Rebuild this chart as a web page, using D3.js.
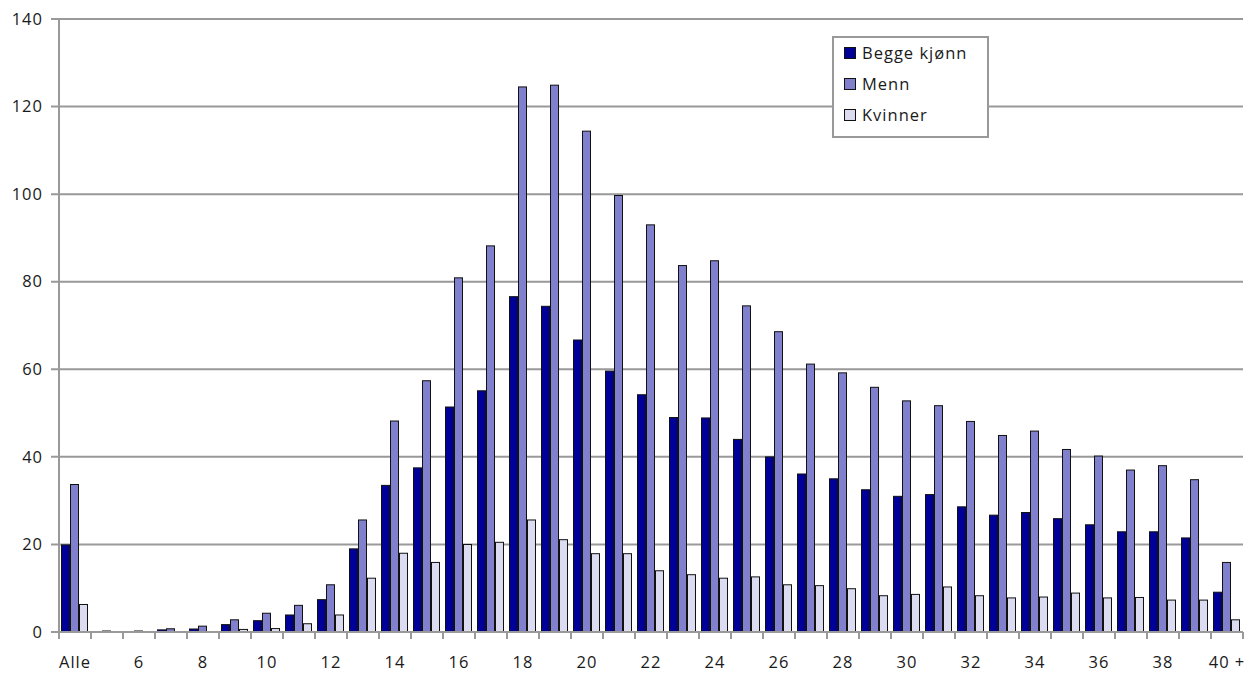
<!DOCTYPE html>
<html><head><meta charset="utf-8">
<script src="https://cdn.jsdelivr.net/npm/d3@7"></script>
<style>body{margin:0;background:#fff}svg{display:block}text{font-family:"Open Sans","DejaVu Sans",sans-serif;fill:#1a1a1a;letter-spacing:1px}</style>
</head><body><svg id="c" width="1246" height="673"></svg>
<script>
const categories = ["Alle","5","6","7","8","9","10","11","12","13","14","15","16","17","18","19","20","21","22","23","24","25","26","27","28","29","30","31","32","33","34","35","36","37","38","39","40 +"];
const tickLabels = ["Alle","6","8","10","12","14","16","18","20","22","24","26","28","30","32","34","36","38","40 +"];
const seriesNames = ["Begge kjønn","Menn","Kvinner"];
const begge = [20,0,0,0.6,0.8,1.8,2.7,4.0,7.5,19.1,33.6,37.6,51.5,55.2,76.7,74.5,66.8,59.7,54.3,49.1,49.0,44.1,40.1,36.2,35.1,32.6,31.1,31.5,28.7,26.8,27.4,26.0,24.6,23.0,23.0,21.6,9.2];
const menn = [33.8,0.2,0.2,0.85,1.45,2.9,4.4,6.2,10.9,25.7,48.3,57.5,81.0,88.3,124.6,125.0,114.5,99.8,93.1,83.8,84.9,74.6,68.7,61.3,59.3,56.0,52.9,51.8,48.2,45.0,46.0,41.8,40.3,37.1,38.1,34.9,16.0];
const kvinner = [6.4,0,0,0,0,0.7,0.9,2.0,4.0,12.4,18.1,16.0,20.1,20.6,25.7,21.2,18.0,18.0,14.1,13.2,12.4,12.7,10.9,10.7,10.0,8.4,8.7,10.4,8.4,7.9,8.1,9.0,7.9,8.0,7.4,7.4,2.9];
const yTicks = [0,20,40,60,80,100,120,140];
const colors = ["#000099","#8080cc","#dcdcf0"];

(function () {
const series = [begge, menn, kvinner];
const svg = d3.select("#c");
const pLeft = 59, pRight = 1243, pTop = 19, pBottom = 632;
const x = d3.scaleBand().domain(categories).range([pLeft, pRight]);
const xs = d3.scaleBand().domain(seriesNames).range([2, 29]);
const y = d3.scaleLinear().domain([0, 140]).range([pBottom, pTop]);

svg.append("g").selectAll("line").data(yTicks).join("line")
  .attr("x1", pLeft - 8).attr("x2", pRight)
  .attr("y1", d => y(d)).attr("y2", d => y(d))
  .attr("stroke", "#999").attr("stroke-width", 2);

svg.append("g").selectAll("text").data(yTicks).join("text")
  .attr("x", 43).attr("y", d => y(d)).attr("dy", "0.35em")
  .attr("text-anchor", "end").attr("font-size", 16.5).text(d => d);

series.forEach((vals, si) => {
  svg.append("g").selectAll("rect").data(vals.map((v, i) => ({v, i})).filter(d => d.v > 0)).join("rect")
    .attr("x", d => x(categories[d.i]) + xs(seriesNames[si]) + 0.5)
    .attr("y", d => Math.min(y(d.v), y(0) - 1.5) + 0.5)
    .attr("width", xs.bandwidth() - 1)
    .attr("height", d => Math.max(0.5, y(0) - y(d.v) - 1))
    .attr("fill", colors[si]).attr("stroke", "#111").attr("stroke-width", 1);
});

svg.append("line").attr("x1", pLeft).attr("x2", pLeft).attr("y1", pTop).attr("y2", pBottom + 1)
  .attr("stroke", "#999").attr("stroke-width", 2);
svg.append("line").attr("x1", pLeft - 8).attr("x2", pRight).attr("y1", pBottom).attr("y2", pBottom)
  .attr("stroke", "#999").attr("stroke-width", 2);

const bounds = categories.map(c => x(c)).concat([pRight]);
svg.append("g").selectAll("line").data(bounds).join("line")
  .attr("x1", d => d).attr("x2", d => d).attr("y1", pBottom).attr("y2", pBottom + 7)
  .attr("stroke", "#999").attr("stroke-width", 2);

svg.append("g").selectAll("text").data(tickLabels).join("text")
  .attr("x", d => x(d) + x.bandwidth() / 2).attr("y", 668)
  .attr("text-anchor", "middle").attr("font-size", 16.5).text(d => d);

const lg = svg.append("g").attr("transform", "translate(833,37)");
lg.append("rect").attr("x", 0).attr("y", 0).attr("width", 155).attr("height", 100)
  .attr("fill", "#fff").attr("stroke", "#999").attr("stroke-width", 2);
seriesNames.forEach((n, i) => {
  const row = lg.append("g").attr("transform", `translate(0,${16 + i * 31})`);
  row.append("rect").attr("x", 11.5).attr("y", -5.5).attr("width", 11).attr("height", 11)
    .attr("fill", colors[i]).attr("stroke", "#111").attr("stroke-width", 1);
  row.append("text").attr("x", 29).attr("y", 0).attr("dy", "0.35em")
    .attr("font-size", 16.5).text(n);
});
})();
</script></body></html>
